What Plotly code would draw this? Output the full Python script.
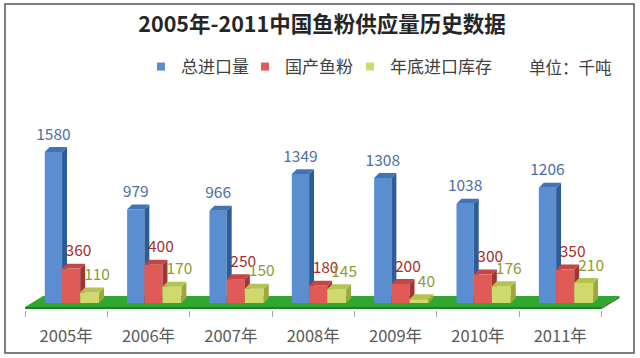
import plotly.graph_objects as go

years = ["2005年", "2006年", "2007年", "2008年", "2009年", "2010年", "2011年"]
total_import = [1580, 979, 966, 1349, 1308, 1038, 1206]
domestic = [360, 400, 250, 180, 200, 300, 350]
stock = [110, 170, 150, 145, 40, 176, 210]

series = [
    dict(name="总进口量", values=total_import, offset=-0.26, width=0.21,
         front="#5A8ED0", side="#2E5C98", top="#4273B5", label="#4D6FA3", lshift=0.0),
    dict(name="国产鱼粉", values=domestic, offset=-0.05, width=0.22,
         front="#E05B58", side="#A13532", top="#C24744", label="#A3302D", lshift=0.09),
    dict(name="年底进口库存", values=stock, offset=0.17, width=0.23,
         front="#CFDA6C", side="#9BA83C", top="#B6C352", label="#8E9B30", lshift=0.09),
]
legend_symbol_px = [160, 264, 369]

DX = 0.06      # depth in x units
DY = 52        # depth in y units
LABEL_UP = 170
FONT = "Noto Sans CJK SC, Noto Sans, sans-serif"

fig = go.Figure()
xs = list(range(len(years)))
legend_ids = ["legend", "legend2", "legend3"]

for k, s in enumerate(series):
    ax = "" if k == 0 else str(k + 1)
    xa, ya = "x" + ax, "y" + ax
    fig.add_trace(go.Bar(
        x=xs, y=s["values"], base=0, offset=s["offset"], width=s["width"],
        marker=dict(color=s["front"], line=dict(width=0)),
        name=s["name"], showlegend=False, xaxis=xa, yaxis=ya, hoverinfo="skip"))
    for i, v in zip(xs, s["values"]):
        x0 = i + s["offset"]
        x1 = x0 + s["width"]
        fig.add_trace(go.Scatter(
            x=[x1, x1 + DX, x1 + DX, x1, x1], y=[0, DY, v + DY, v, 0],
            mode="lines", fill="toself", fillcolor=s["side"],
            line=dict(width=0, color=s["side"]), showlegend=False,
            hoverinfo="skip", xaxis=xa, yaxis=ya))
        fig.add_trace(go.Scatter(
            x=[x0, x0 + DX, x1 + DX, x1, x0], y=[v, v + DY, v + DY, v, v],
            mode="lines", fill="toself", fillcolor=s["top"],
            line=dict(width=0, color=s["top"]), showlegend=False,
            hoverinfo="skip", xaxis=xa, yaxis=ya))
    fig.add_trace(go.Scatter(
        x=[i + s["offset"] + s["width"] / 2 + s["lshift"] for i in xs],
        y=[v + LABEL_UP for v in s["values"]],
        mode="text", text=[str(v) for v in s["values"]],
        textposition="middle center",
        textfont=dict(family=FONT, size=15.5, color=s["label"]),
        showlegend=False, hoverinfo="skip", cliponaxis=False,
        xaxis=xa, yaxis=ya))
    fig.add_trace(go.Scatter(
        x=[None], y=[None], mode="markers", name=s["name"],
        marker=dict(symbol="square", size=8, color=s["front"]),
        xaxis="x", yaxis="y", legend=legend_ids[k]))

XR = [-0.5, 6.75]
YR = [-73, 1800]
common_x = dict(range=XR, showgrid=False, zeroline=False, fixedrange=True)
common_y = dict(range=YR, showgrid=False, zeroline=False, fixedrange=True)

pw, ph = 597, 179
legend_layouts = {}
for k, lid in enumerate(legend_ids):
    legend_layouts[lid] = dict(
        orientation="h", x=(legend_symbol_px[k] - 19 - 25) / pw, xanchor="left",
        y=(310 - 67) / ph, yanchor="middle",
        font=dict(family=FONT, size=17, color="#404040"),
        itemsizing="trace", bgcolor="rgba(0,0,0,0)")

fig.update_layout(
    width=640, height=358,
    margin=dict(l=25, r=18, t=131, b=48),
    paper_bgcolor="white", plot_bgcolor="rgba(0,0,0,0)",
    font=dict(family=FONT, color="#595959"),
    title=dict(text="<b>2005年-2011中国鱼粉供应量历史数据</b>",
               font=dict(family=FONT, size=21.5, color="#262626"),
               x=(322 - 25) / pw, xanchor="center", y=1 - 24 / 358, yanchor="middle",
               xref="paper", yref="container"),
    xaxis=dict(**common_x, tickmode="array", tickvals=xs, ticktext=years,
               ticks="", showline=False,
               tickfont=dict(family=FONT, size=16.5, color="#595959"),
               ticklabelstandoff=14,
               minor=dict(tickmode="array", tickvals=[i - 0.5 for i in range(8)],
                          ticks="outside", ticklen=6, tickcolor="#A6A6A6", tickwidth=1)),
    yaxis=dict(**common_y, visible=False),
    xaxis2=dict(**common_x, overlaying="x", visible=False),
    yaxis2=dict(**common_y, overlaying="y", visible=False),
    xaxis3=dict(**common_x, overlaying="x", visible=False),
    yaxis3=dict(**common_y, overlaying="y", visible=False),
    showlegend=True,
    **legend_layouts,
)

# green floor
fl, fr, fdx = -0.5, 6.5, 0.22
yf, yb, ye = -42, 73, -63
fig.add_shape(type="path", xref="x", yref="y", layer="below",
              path=f"M{fl},{yf} L{fl+fdx},{yb} L{fr+fdx},{yb} L{fr},{yf} Z",
              fillcolor="#31A631", line=dict(width=0))
fig.add_shape(type="path", xref="x", yref="y", layer="below",
              path=f"M{fl},{ye} L{fl},{yf} L{fr},{yf} L{fr+fdx},{yb} L{fr+fdx},{yb-21} L{fr},{ye} Z",
              fillcolor="#1F841F", line=dict(width=0))

fig.add_annotation(text="单位：千吨", xref="paper", yref="paper",
                   x=(570 - 25) / pw, y=(310 - 67) / ph, xanchor="center", yanchor="middle",
                   showarrow=False, font=dict(family=FONT, size=16.5, color="#404040"))

fig.add_shape(type="rect", xref="paper", yref="paper", layer="above",
              x0=(5 - 25) / pw, x1=(634 - 25) / pw,
              y0=(310 - 353) / ph, y1=(310 - 4) / ph,
              line=dict(color="#555555", width=1.5), fillcolor="rgba(0,0,0,0)")

fig.write_html("out.html", post_script="document.body.style.margin='0';",
               config={"displayModeBar": False})
